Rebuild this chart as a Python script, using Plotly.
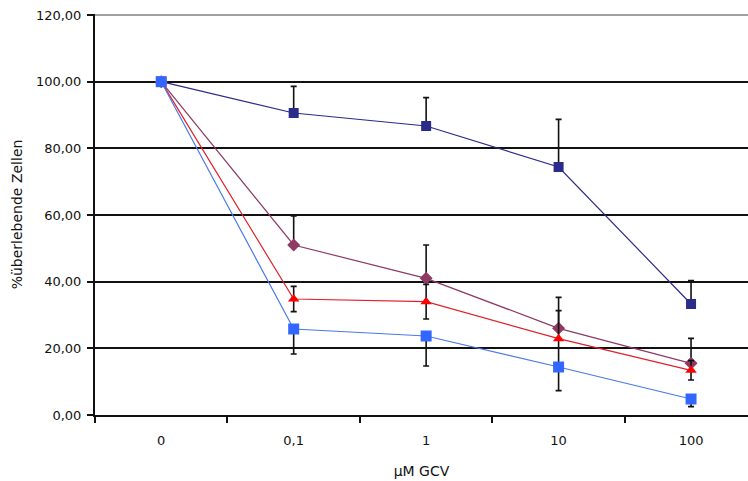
import plotly.graph_objects as go

categories = ["0", "0,1", "1", "10", "100"]

navy_vals = [100, 90.6, 86.7, 74.4, 33.3]
navy_err_plus = [0, 8.0, 8.5, 14.3, 7.0]

purple_vals = [100, 51.0, 41.0, 26.0, 15.5]
purple_err_plus = [0, 8.7, 10.0, 9.3, 7.5]

red_vals = [100, 34.8, 34.0, 22.9, 13.4]
red_err = [0, 3.8, 5.2, 8.4, 2.9]

blue_vals = [100, 25.8, 23.7, 14.4, 4.8]
blue_err_minus = [0, 7.5, 9.0, 7.1, 2.3]

y_ticks = [0, 20, 40, 60, 80, 100, 120]
y_tick_labels = ["0,00", "20,00", "40,00", "60,00", "80,00", "100,00", "120,00"]

FONT = "DejaVu Sans"
ERR_COLOR = "#111111"

fig = go.Figure()

def add_series(vals, color, symbol, size, plus, minus, line_color=None):
    fig.add_trace(go.Scatter(
        x=categories, y=vals, mode="lines+markers",
        line=dict(color=line_color or color, width=1.2),
        marker=dict(color=color, symbol=symbol, size=size, line=dict(width=0)),
        error_y=dict(type="data", symmetric=False, array=plus, arrayminus=minus,
                     color=ERR_COLOR, thickness=1.6, width=3),
        showlegend=False,
    ))

zeros = [0] * len(categories)
add_series(navy_vals, "#2B2B8C", "square", 10, navy_err_plus, zeros)
add_series(purple_vals, "#8E3A63", "diamond", 10, purple_err_plus, zeros)
add_series(red_vals, "#FF0000", "triangle-up", 10, red_err, red_err, "#E0202A")
add_series(blue_vals, "#3366FF", "square", 11, zeros, blue_err_minus, "#4A7AE8")

fig.update_layout(
    width=748, height=481,
    margin=dict(l=95, r=0, t=14, b=66),
    paper_bgcolor="white", plot_bgcolor="white",
    font=dict(family=FONT, size=13, color="#111111"),
    xaxis=dict(
        type="category", range=[-0.5, 4.43], automargin=False,
        tickson="boundaries", ticks="outside", ticklen=6, tickwidth=1.5, tickcolor="#111111",
        showgrid=False, showline=True, linecolor="#111111", linewidth=2,
        ticklabelstandoff=12,
        title=dict(text="µM GCV", standoff=20, font=dict(family=FONT, size=14)),
        tickfont=dict(family=FONT, size=13),
        zeroline=False,
    ),
    yaxis=dict(
        range=[0, 120.3], tickvals=y_ticks, ticktext=y_tick_labels, automargin=False,
        ticks="outside", ticklen=6, tickwidth=1.5, tickcolor="#111111",
        showgrid=True, gridcolor="#111111", gridwidth=1.5,
        showline=True, linecolor="#111111", linewidth=2,
        zeroline=False,
        ticklabelstandoff=3,
        title=dict(text="%überlebende Zellen", standoff=10, font=dict(family=FONT, size=14)),
        tickfont=dict(family=FONT, size=13),
    ),
)

fig.add_shape(type="line", xref="paper", yref="y", x0=0, x1=1, y0=120, y1=120,
              line=dict(color="#A0A0A0", width=2), layer="above")

fig.write_html("out.html", config={"displayModeBar": False},
               post_script="document.body.style.margin='0';")
